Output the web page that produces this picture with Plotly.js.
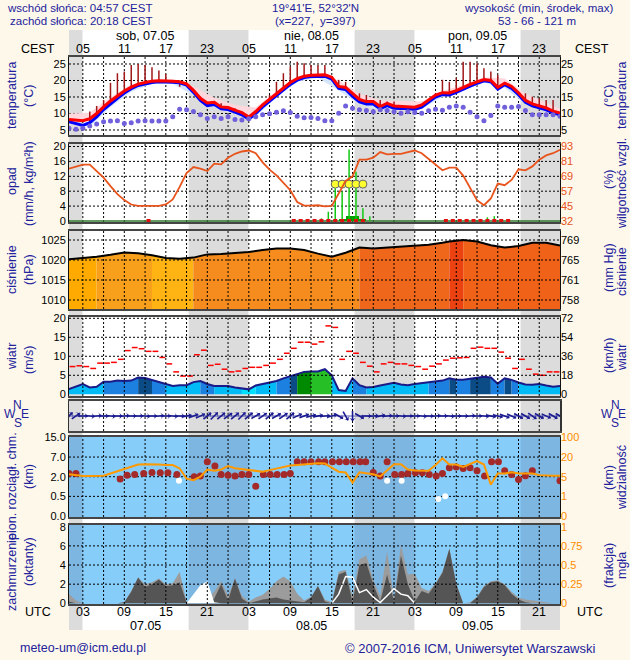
<!DOCTYPE html>
<html>
<head>
<meta charset="utf-8">
<script src="https://cdn.plot.ly/plotly-3.0.1.min.js"></script>
<style>html,body{margin:0;padding:0;background:#fdf8ea;}#chart{width:630px;height:660px;}</style>
</head>
<body>
<div id="chart"></div>
<script>
// ---------------- DATA (hours since 07.05 03:00 CEST = 01:00 UTC) ----------------
const hours = [0,1,2,3,4,5,6,7,8,9,10,11,12,13,14,15,16,17,18,19,20,21,22,23,24,25,26,27,28,29,30,31,32,33,34,35,36,37,38,39,40,41,42,43,44,45,46,47,48,49,50,51,52,53,54,55,56,57,58,59,60,61,62,63,64,65,66,67,68,69,70,71];

// temperature (°C)
const tempRed = [8.2,8.0,7.8,8.4,10.0,12.0,13.8,15.3,16.8,18.0, 18.9,19.4,19.8,19.9,19.9,19.8,19.6,19.0,17.0,14.6, 13.2,13.4,12.0,11.8,11.0,10.3,8.9,10.6,12.6,14.3, 16.1,17.6,19.4,20.6,21.3,21.6,21.6,21.7,21.0,18.2, 17.9,16.0,14.3,13.6,13.6,12.1,13.1,12.3,12.2,12.2, 11.9,12.6,14.1,15.6,16.3,16.2,16.9,17.9,18.8,19.6, 20.3,20.0,17.9,19.2,18.2,16.3,14.0,12.9,12.4,11.7, 10.7,10.1];
const tempBlue = [7.5,6.9,6.4,7.2,9.0,11.2,13.0,14.6,16.2,17.5, 18.5,19.0,19.4,19.6,19.6,19.5,19.3,18.6,16.4,14.0, 12.4,12.7,11.4,11.2,10.4,9.6,8.3,10.0,12.0,13.7, 15.5,17.0,18.8,20.1,20.9,21.2,21.2,21.3,20.4,17.6, 17.3,15.2,13.5,12.9,12.9,11.4,12.4,11.6,11.5,11.5, 11.2,11.9,13.5,15.0,15.7,15.6,16.4,17.4,18.3,19.1, 19.9,19.6,17.4,18.7,17.6,15.7,13.4,12.3,11.8,11.1, 10.2,9.6];
const dewPoint = [5.5,5.2,5.5,6.2,6.8,7.5,7.7,7.8,7.0,7.2, 7.7,7.8,7.7,7.7,7.7,9.0,11.3,11.1,10.6,9.6, 8.5,9.0,8.5,9.0,8.2,8.0,8.4,9.0,9.6,9.9, 10.4,10.8,10.3,9.2,8.7,8.8,8.5,7.8,7.8,10.1, 12.3,11.6,11.1,10.9,10.5,11.1,10.9,10.5,10.1,10.5, 10.3,10.1,10.8,11.3,11.0,11.9,12.3,11.9,10.4,9.0, 7.8,9.4,12.3,11.9,11.9,12.1,10.9,9.6,9.6,9.6, 9.6,9.2];
const bandH  = [0,3,6,9,12,15,18,21,24,27,30,33,36,39,42,45,48,51,54,57,60,63,66,69,71];
const tempHi = [10.0,10.2,15.0,18.8,20.3,20.3,18.2,14.8,12.6,11.8,16.8,21.2,22.0,20.0,16.0,14.0,13.8,13.6,16.8,18.6,21.0,20.6,16.0,13.2,11.4];
const tempLo = [7.0,6.0,12.0,16.6,19.0,19.0,15.5,11.8,9.8,9.0,15.0,19.6,20.8,17.0,12.8,11.0,11.2,11.4,15.0,17.0,19.3,17.8,12.8,10.6,9.0];
const tBarH   = [3,4,5,6,7,8,9,10,11,12,13,14,15,16, 19,21,22,23,24,25, 29,30,31,32,33,34,35,36,37, 39,40,42,43,45,46,47, 53,54,55,56,57,58,59,60,61,62,63,64, 66,67,68,69,70];
const tBarTop = [10.6,12.3,14.1,19.3,22.2,22.7,24.7,25.0,24.7,24.0,23.0,22.0,19.6,18.1, 15.1,13.6,13.1,12.3,11.6,10.6, 15.6,19.6,22.2,24.2,25.7,25.2,24.7,24.7,24.7, 20.2,19.6,16.1,15.6,14.1,13.6,13.6, 16.1,20.2,19.6,20.7,25.7,25.7,25.2,23.7,22.7,21.7,19.2,18.1, 16.1,15.1,14.6,14.1,14.1];

// precipitation (mm/h) and relative humidity (%)
const humidity = [74.9,76.5,78.1,78.1,72.7,67.5,60.5,54.0,49.1,45.5, 44.4,44.6,44.8,44.4,45.6,49.6,59.9,71.3,76.2,74.9, 72.9,78.9,78.4,83.8,87.0,88.9,89.7,87.5,80.0,74.0, 69.4,63.0,57.2,47.5,44.6,44.6,44.9,43.9,44.4,54.5, 64.8,68.6,82.2,82.2,83.8,88.4,86.5,87.0,87.0,88.4, 89.7,87.5,83.0,78.4,73.5,75.7,75.7,69.2,58.6,49.1, 44.9,50.4,62.6,61.3,65.6,74.3,73.5,76.7,82.2,85.7, 87.5,90.3];
const precipSpikeH = [36.5,37.5,38.5,39.5,40.5,41.5,42.5,43.5,60.5,61.5,62.5];
const precipSpikeV = [0.7,2.5,8.8,7.9,19.2,13.2,3.4,1.3,1.0,1.3,0.4];
const precipMeanH = [39.5,40.5,41.5,42.5];
const precipMeanV = [0.45,1.3,1.3,0.45];
const precipFlagH = [11.5,32.5,33.5,34.5,35.5,36.5,37.5,38.5,39.5,40.5,41.5,42.5,54.5,55.5,56.5,57.5,58.5,59.5,60.5,61.5,62.5,63.5];
const stormH = [38.5,39.5,40.5,41.5,42.5];

// pressure (hPa)
const pressH = [0,2,4,6,8,10,12,14,16,18,20,22,24,26,28,30,32,34,36,38,40,42,44,46,48,50,52,54,55,57,59,61,63,65,67,69,71];
const pressV = [1020.2,1020.5,1020.8,1021.3,1021.9,1021.7,1021.2,1020.5,1020.3,1020.6,1021.4,1021.5,1021.7,1022.0,1022.5,1022.9,1022.9,1022.5,1021.6,1020.8,1021.8,1023.1,1022.9,1023.1,1023.4,1023.6,1023.8,1024.3,1024.6,1025.0,1024.6,1023.7,1023.1,1023.5,1024.3,1024.3,1023.6];
const pressBandEdges = [0,4,12,18,42,55,57,71];
const pressBandColors = ['#ffaa00','#f8a01c','#ffb414','#f68c1e','#ef671b','#ec4212','#f06218'];

// wind (m/s)
const windSpeed = [1.4,2.0,2.7,1.8,2.0,3.3,3.3,3.6,3.5,3.6, 4.4,4.3,3.8,3.1,2.6,2.2,2.4,2.4,3.2,3.5, 2.7,2.2,2.2,2.2,1.8,1.5,1.3,2.3,2.7,3.1, 3.5,4.2,4.8,5.4,5.9,6.0,6.0,6.6,5.0,1.1, 0.9,4.2,2.4,1.8,1.9,2.3,2.7,3.0,2.6,2.4, 2.7,2.9,3.2,3.4,3.6,4.2,3.8,3.8,4.1,4.4, 4.6,4.4,2.8,4.2,3.8,3.1,2.6,2.5,2.7,2.3, 2.0,2.2];
const windGust = [7.3,7.5,7.3,6.8,8.2,8.2,8.4,9.2,11.5,12.3, 12.0,11.3,11.3,9.7,8.0,5.9,4.8,4.8,10.4,11.6, 7.6,7.9,6.6,5.9,6.1,6.8,7.1,7.1,7.6,8.2, 9.2,10.8,12.1,13.7,13.7,13.2,13.8,18.0,17.6,9.2, 11.3,10.8,8.4,7.4,5.9,8.0,8.4,8.0,8.0,7.6, 7.3,6.6,7.4,8.0,9.0,9.5,9.6,9.7,12.1,12.4, 12.1,12.1,11.1,9.5,6.8,9.2,6.6,5.3,5.0,5.9, 5.9];
const windBandEdges = [0,5,10,12,14,19,21,25,27,30,32,33,35,38,41,43,52,55,56,58,61,63,64,65,71];
const windBandColors = ['#00bbf5','#1c80e0','#0b4c86','#1c80e0','#00bbf5','#1c80e0','#00bbf5','#00e0ff','#00bbf5','#1c80e0','#0b4c86','#008a00','#26c026','#00bbf5','#1c80e0','#00bbf5','#1c80e0','#0b4c86','#1c80e0','#0b4c86','#1c80e0','#0b4c86','#1c80e0','#00bbf5'];
const windDir = [225,235, 270,275,265,270,275,270,265,270,270,275,270,265,270,275,270, 260,250,245, 230,225,230,235,230,225,230, 240,235,230,240,235,230,245,250,255, 260,265,255, 300,330,0,300, 270,265,260,265,270,275,270,270,275,270,265,270,275,270,270,265,270,275, 280,285,290,295,300,300,305,300,295,300,300];

// visibility (km, right axis) and vertical cloud extent (km, left axis)
const visKm = [6.8,6.0,5.5,5.5,5.5,5.8,7.5,9.2,11.0,12.5, 14.3,14.6,14.6,14.3,14.0,13.9,11.3,4.6,4.3,5.0, 10.5,9.5,10.5,13.1,11.5,10.8,10.0,9.2,8.8,10.0, 11.3,12.5,13.5,13.9,14.5,15.1,15.3,15.0,12.0,8.8, 8.3,3.8,8.3,7.5,6.8,5.2,10.0,14.6,14.6,10.5, 9.8,9.5,9.5,13.9,19.0,14.3,14.3,12.5,15.0,16.9, 14.3,3.4,7.5,7.5,8.3,7.5,7.5,7.5,6.2,5.7, 5.7,5.7];
const cloudExtH  = [0,1,7.4,8.4,9.5,10.8,12.0,13.2,14.3,15.6,18.1,19.0,20.0,21.1,22.0,23.0,24.0,25.0,26.0,27.0,28.1,29.1,30.1,31.1,32.0,33.0,34.0,35.0,36.1,37.0,38.1,39.1,40.1,41.1,42.1,42.9,44.0,45.0,46.0,47.1,48.1,49.0,50.1,51.1,52.1,53.1,54.0,55.0,56.0,57.0,58.0,59.0,60.1,61.1,62.1,63.0,64.0,65.0,66.0,67.0,71.0];
const cloudExtKm = [2.84,2.84,1.82,2.4,2.59,2.84,3.1,3.0,3.0,2.59,1.99,2.15,5.8,4.7,2.59,2.4,2.15,2.59,2.59,1.28,2.59,2.59,2.59,2.59,2.84,5.8,5.8,5.8,5.8,5.8,5.8,5.8,5.8,5.8,5.8,5.8,3.1,2.15,5.8,2.59,2.59,2.84,3.0,3.0,2.59,2.15,2.84,4.26,4.5,4.1,4.26,3.5,2.15,5.8,5.8,3.5,2.59,1.79,2.25,3.5,1.69];
const whiteDotH  = [15.9,46.0,48.1,53.4,54.4];
const whiteDotKm = [1.69,1.69,1.69,0.43,0.5];
const visLeftTicks  = [0,0.5,2,7,15];
const visRightTicks = [0,1,5,20,100];

// cloud cover (oktas) and fog (fraction)
const cloudHigh = [1.0,0.3,0,0,0,0,0,0,0.1,1.3, 2.7,2.0,2.2,2.6,2.0,2.1,3.3,0.2,0.2,0.3, 0.5,1.2,2.3,0.8,2.6,0.8,0.2,0.6,0.9,1.5, 2.3,2.8,2.3,1.0,0.3,0.7,1.8,0.4,0.1,3.3, 3.5,0.8,4.6,5.0,2.4,0.8,5.4,0.5,6.1,3.0, 3.1,1.6,1.3,2.1,3.3,5.7,2.1,0,0.1,0.7, 1.8,2.3,2.4,2.0,1.2,0.6,0.4,0.3,0.2,0.1, 0,0];
const cloudLow = [0.2,0,0,0,0,0,0,0,0.1,1.2, 2.7,1.7,2.0,2.5,1.8,1.9,2.2,0.1,0.1,0.2, 0.1,0.5,2.0,0.3,2.6,0.5,0,0.2,0.4,0.5, 0.6,0.4,0.3,0.2,0.1,0.6,1.8,0.2,0,3.0, 3.3,0.1,4.0,4.2,2.0,0.2,3.0,0.2,5.0,2.0, 0.2,1.3,1.0,2.0,3.2,5.7,2.0,0,0,0.6, 1.7,2.2,2.3,1.9,1.0,0.4,0.1,0,0,0, 0,0];
const fogAreaH = [17,18,19,20,21,22];
const fogAreaV = [0,0.9,1.9,2.3,0.1,0];
const fogLineH = [38,39,40,41,42,43,44,45,46,47,48,49,50];
const fogLineV = [0,0.12,0.35,0.34,0.14,0.18,0.08,0.01,0.1,0.19,0.12,0.1,0];

// time axis labels
const tickH = [2,8,14,20,26,32,38,44,50,56,62,68];
const cestLabels = ['05','11','17','23','05','11','17','23','05','11','17','23'];
const utcLabels  = ['03','09','15','21','03','09','15','21','03','09','15','21'];
const dayH = [11,35,59];
const dayTop = ['sob, 07.05','nie, 08.05','pon, 09.05'];
const dayBottom = ['07.05','08.05','09.05'];
const nightStart = [0,17.3,41.3,65.3];
const nightEnd   = [1.95,25.95,49.95,71];

// ---------------- GEOMETRY / STYLE ----------------
const FONT = 'Liberation Sans, Arial, sans-serif';
const NAVY = '#22229c';
const L = 69, R = 560, TOP = 57, BOT = 604, PH = BOT - TOP;
const px2y = p => (BOT - p) / PH;
const px2x = p => (p - L) / (R - L);
const dom = (t, b) => [px2y(b), px2y(t)];
const XMAX = 71;

function pw(v, t) {
  for (let i = 0; i < t.length - 1; i++) if (v <= t[i + 1]) return i + (v - t[i]) / (t[i + 1] - t[i]);
  return t.length - 1;
}

const traces = [];
const S = o => Object.assign({type: 'scatter', hoverinfo: 'skip', showlegend: false}, o);

// Temperature panel
traces.push(S({x: hours, y: tempRed, yaxis: 'y', mode: 'lines', line: {width: 0}}));
traces.push(S({x: bandH, y: tempHi, yaxis: 'y', mode: 'lines', line: {width: 0}, fill: 'tonexty', fillcolor: '#ffd8de'}));
traces.push(S({x: bandH, y: tempLo, yaxis: 'y', mode: 'lines', line: {width: 0}}));
traces.push(S({x: hours, y: tempBlue, yaxis: 'y', mode: 'lines', line: {width: 0}, fill: 'tonexty', fillcolor: '#d3e4fb'}));
{
  const bx = [], by = [];
  tBarH.forEach((h, i) => { bx.push(h, h, null); by.push(tempBlue[hours.indexOf(h)], tBarTop[i], null); });
  traces.push(S({x: bx, y: by, yaxis: 'y', mode: 'lines', line: {color: '#a01818', width: 1.5}}));
}
traces.push(S({x: hours, y: tempBlue, yaxis: 'y', mode: 'lines', line: {color: '#0000ff', width: 3}}));
traces.push(S({x: hours, y: tempRed, yaxis: 'y', mode: 'lines', line: {color: '#ff0000', width: 3}}));
traces.push(S({x: hours, y: dewPoint, yaxis: 'y', mode: 'markers', marker: {color: '#7060dc', size: 5}}));
traces.push(S({x: [null], y: [null], yaxis: 'y2', mode: 'lines'}));

// Precipitation / humidity panel
traces.push({type: 'bar', x: precipMeanH, y: precipMeanV, yaxis: 'y3', width: 1, marker: {color: '#00a000', line: {width: 0}}, hoverinfo: 'skip', showlegend: false});
{
  const sx = [], sy = [];
  precipSpikeH.forEach((h, i) => { sx.push(h, h, null); sy.push(0, precipSpikeV[i], null); });
  traces.push(S({x: sx, y: sy, yaxis: 'y3', mode: 'lines', line: {color: '#10c810', width: 1.5}}));
}
traces.push(S({x: precipFlagH, y: precipFlagH.map(() => 0), yaxis: 'y3', mode: 'markers', cliponaxis: false, marker: {symbol: 'square', size: 4, color: '#e01010'}}));
traces.push(S({x: hours, y: humidity, yaxis: 'y4', mode: 'lines', line: {color: '#e8541c', width: 1.8}}));
traces.push(S({x: stormH, y: stormH.map(() => 9.9), yaxis: 'y3', mode: 'markers', marker: {size: 8, color: '#ffff30', line: {color: '#666', width: 1}}}));

// Pressure panel
for (let i = 0; i < pressBandEdges.length - 1; i++) {
  const a = pressBandEdges[i], b = pressBandEdges[i + 1], xs = [], ys = [];
  pressH.forEach((h, j) => { if (h >= a && h <= b) { xs.push(h); ys.push(pressV[j]); } });
  traces.push(S({x: xs, y: ys, yaxis: 'y5', mode: 'lines', line: {width: 0}, fill: 'tozeroy', fillcolor: pressBandColors[i]}));
}
traces.push(S({x: pressH, y: pressV, yaxis: 'y5', mode: 'lines', line: {color: '#000', width: 2}}));
traces.push(S({x: [null], y: [null], yaxis: 'y6', mode: 'lines'}));

// Wind panel
for (let i = 0; i < windBandEdges.length - 1; i++) {
  const a = windBandEdges[i], b = windBandEdges[i + 1], xs = [], ys = [];
  hours.forEach((h, j) => { if (h >= a && h <= b) { xs.push(h); ys.push(windSpeed[j]); } });
  traces.push(S({x: xs, y: ys, yaxis: 'y7', mode: 'lines', line: {width: 0}, fill: 'tozeroy', fillcolor: windBandColors[i]}));
}
traces.push(S({x: hours, y: windSpeed, yaxis: 'y7', mode: 'lines', line: {color: '#1a1a88', width: 2}}));
{
  const gx = [], gy = [];
  windGust.forEach((g, i) => { gx.push(hours[i] + 0.08, hours[i] + 0.92, null); gy.push(g, g, null); });
  traces.push(S({x: gx, y: gy, yaxis: 'y7', mode: 'lines', line: {color: '#ff0000', width: 1.5}}));
}
traces.push(S({x: [null], y: [null], yaxis: 'y8', mode: 'lines'}));

// Wind direction strip: short arrows oriented by direction
{
  const pxPerH = (R - L) / XMAX, pxPerU = (431 - 401) / 2;
  const sx = [], sy = [], hx = [], hy = [], ha = [];
  windDir.forEach((d, i) => {
    const to = (d + 180) % 360, a = to * Math.PI / 180;
    const ex = Math.sin(a) * 5 / pxPerH, ey = Math.cos(a) * 5 / pxPerU;
    sx.push(hours[i] - ex, hours[i] + ex, null); sy.push(-ey, ey, null);
    hx.push(hours[i] + ex); hy.push(ey); ha.push(to);
  });
  traces.push(S({x: hours, y: hours.map(() => 0), yaxis: 'y9', mode: 'lines', line: {color: '#3030a0', width: 0.8}}));
  traces.push(S({x: sx, y: sy, yaxis: 'y9', mode: 'lines', line: {color: '#1a1a90', width: 1.6}}));
  traces.push(S({x: hx, y: hy, yaxis: 'y9', mode: 'markers', marker: {symbol: 'arrow-wide', size: 5, angle: ha, color: '#1a1a90'}}));
}

// Visibility / cloud extent panel
traces.push(S({x: hours, y: visKm.map(v => pw(v, visRightTicks)), yaxis: 'y11', mode: 'lines', line: {color: '#ff9900', width: 2}}));
traces.push(S({x: cloudExtH, y: cloudExtKm.map(v => pw(v, visLeftTicks)), yaxis: 'y10', mode: 'markers', marker: {color: '#a42a2a', size: 7}}));
traces.push(S({x: whiteDotH, y: whiteDotKm.map(v => pw(v, visLeftTicks)), yaxis: 'y10', mode: 'markers', marker: {color: '#ffffff', size: 6}}));

// Cloud cover panel
traces.push(S({x: hours, y: cloudHigh, yaxis: 'y12', mode: 'lines', line: {width: 0}, fill: 'tozeroy', fillcolor: '#9c9c9c'}));
traces.push(S({x: hours, y: cloudLow, yaxis: 'y12', mode: 'lines', line: {width: 0}, fill: 'tozeroy', fillcolor: '#555555'}));
traces.push(S({x: fogAreaH, y: fogAreaV, yaxis: 'y12', mode: 'lines', line: {width: 0}, fill: 'tozeroy', fillcolor: '#ffffff'}));
traces.push(S({x: fogLineH, y: fogLineV, yaxis: 'y13', mode: 'lines', line: {color: '#ffffff', width: 1.5}}));

// ---------------- SHAPES ----------------
const shapes = [];
const colY0 = px2y(630), colY1 = px2y(30);
shapes.push({type: 'rect', xref: 'x', yref: 'paper', x0: 0, x1: XMAX, y0: colY0, y1: colY1, fillcolor: '#ffffff', line: {width: 0}, layer: 'below'});
nightStart.forEach((s, i) => shapes.push({type: 'rect', xref: 'x', yref: 'paper', x0: s, x1: nightEnd[i], y0: colY0, y1: colY1, fillcolor: '#dcdcdc', line: {width: 0}, layer: 'below'}));
['y10', 'y12'].forEach(ax => {
  shapes.push({type: 'rect', xref: 'x', yref: ax + ' domain', x0: 0, x1: XMAX, y0: 0, y1: 1, fillcolor: '#87cdfa', line: {width: 0}, layer: 'below'});
  nightStart.forEach((s, i) => shapes.push({type: 'rect', xref: 'x', yref: ax + ' domain', x0: s, x1: nightEnd[i], y0: 0, y1: 1, fillcolor: '#7eb6e2', line: {width: 0}, layer: 'below'}));
});
const GL = {color: '#000', width: 1, dash: '2px,2px'};
function grid(ax, yvals, layer) {
  for (let h = 2; h < XMAX; h += 3) shapes.push({type: 'line', xref: 'x', yref: ax + ' domain', x0: h, x1: h, y0: 0, y1: 1, line: GL, layer});
  yvals.forEach(v => shapes.push({type: 'line', xref: 'x', yref: ax, x0: 0, x1: XMAX, y0: v, y1: v, line: GL, layer}));
}
grid('y', [5, 10, 15, 20, 25], 'below');
grid('y3', [4, 8, 12, 16, 20], 'below');
grid('y5', [1010, 1015, 1020, 1025], 'above');
grid('y7', [5, 10, 15, 20], 'above');
grid('y9', [], 'below');
grid('y10', [1, 2, 3], 'below');
grid('y12', [2, 4, 6], 'above');
shapes.push({type: 'line', xref: 'x', yref: 'y3', x0: 0, x1: XMAX, y0: 0, y1: 0, line: {color: '#2f7a2f', width: 1.5}, layer: 'below'});

// ---------------- ANNOTATIONS ----------------
const ann = [];
function txt(text, x, y, o) {
  ann.push(Object.assign({text, x, y, xref: 'paper', yref: 'paper', showarrow: false, xanchor: 'center', yanchor: 'middle',
    font: {family: FONT, size: 11.5, color: NAVY}}, o || {}));
}
txt('wschód słońca: 04:57 CEST', px2x(5), px2y(8), {xanchor: 'left'});
txt('zachód słońca: 20:18 CEST', px2x(8), px2y(21), {xanchor: 'left'});
txt("19°41'E, 52°32'N", px2x(315), px2y(8));
txt('(x=227,\u00a0 y=397)', px2x(315), px2y(21));
txt('wysokość (min, środek, max)', px2x(538), px2y(8));
txt('53 - 66 - 121 m', px2x(537), px2y(21));

const AXF = {family: FONT, size: 12.5, color: '#000'};
tickH.forEach((h, i) => {
  txt(cestLabels[i], h, px2y(49), {xref: 'x', font: AXF});
  txt(utcLabels[i], h, px2y(612), {xref: 'x', font: AXF});
});
dayH.forEach((h, i) => {
  txt(dayTop[i], h, px2y(36), {xref: 'x', font: AXF});
  txt(dayBottom[i], h, px2y(625.5), {xref: 'x', font: AXF});
});
txt('CEST', px2x(38), px2y(49), {font: AXF});
txt('CEST', px2x(592), px2y(49), {font: AXF});
txt('UTC', px2x(38), px2y(612), {font: AXF});
txt('UTC', px2x(590), px2y(612), {font: AXF});

// axis titles: [left line1, y1, left line2, y2, right line1, y3, right line2, y4]
const TF = {family: FONT, size: 12.5, color: NAVY};
const titles = [
  ['temperatura', 96, '(°C)', 96, '(°C)', 96, 'temperatura', 96],
  ['opad', 181, '(mm/h, kg/m²h)', 184, '(%)', 180, 'wilgotność wzgl.', 184],
  ['ciśnienie', 270, '(hPa)', 270, '(mm Hg)', 268, 'ciśnienie', 272],
  ['wiatr', 357, '(m/s)', 360, '(km/h)', 356, 'wiatr', 358],
  ['pion. rozciągł. chm.', 486, '(km)', 477, '(km)', 478, 'widzialność', 478],
  ['zachmurzenie', 572, '(oktanty)', 562, '(frakcja)', 566, 'mgła', 566]
];
titles.forEach(t => {
  txt(t[0], px2x(12), px2y(t[1]), {textangle: -90, font: TF});
  txt(t[2], px2x(29), px2y(t[3]), {textangle: -90, font: TF});
  txt(t[4], px2x(609), px2y(t[5]), {textangle: -90, font: TF});
  txt(t[6], px2x(622), px2y(t[7]), {textangle: -90, font: TF});
});
const CF = {family: FONT, size: 12, color: NAVY};
[[17, 9.5, 25, 18], [615, 607, 622, 615]].forEach(c => {
  txt('N', px2x(c[0]), px2y(405), {font: CF});
  txt('W', px2x(c[1]), px2y(414), {font: CF});
  txt('E', px2x(c[2]), px2y(414), {font: CF});
  txt('S', px2x(c[3]), px2y(423), {font: CF});
});
txt('meteo-um@icm.edu.pl', px2x(18), px2y(648), {xanchor: 'left', font: {family: FONT, size: 12.5, color: NAVY}});
txt('© 2007-2016 ICM, Uniwersytet Warszawski', px2x(343), px2y(648), {xanchor: 'left', font: {family: FONT, size: 13, color: NAVY}});

// ---------------- LAYOUT ----------------
const TK = {family: FONT, size: 11, color: '#000'};
const ax = o => Object.assign({showgrid: false, zeroline: false, ticks: '', tickfont: TK, fixedrange: true, showline: true, mirror: true, linecolor: '#111', linewidth: 1, anchor: 'x'}, o);
const ov = o => Object.assign({showgrid: false, zeroline: false, ticks: '', tickfont: TK, fixedrange: true, showline: false, side: 'right', anchor: 'x'}, o);
const tR = [3.48, 27.12], pR = [-0.27, 20.67], prR = [1007.75, 1027.25], wR = [-0.45, 20.34], vR = [-0.05, 4.02], cR = [-0.07, 8.18];
const layout = {
  width: 630, height: 660, margin: {l: L, r: 630 - R, t: TOP, b: 660 - BOT, pad: 0},
  paper_bgcolor: '#fdf8ea', plot_bgcolor: 'rgba(0,0,0,0)', showlegend: false, font: {family: FONT},
  bargap: 0,
  xaxis: {range: [0, XMAX], domain: [0, 1], anchor: 'y12', showgrid: false, zeroline: false, showticklabels: false, ticks: '',
    showline: true, mirror: 'all', linecolor: '#454545', linewidth: 2, fixedrange: true},
  yaxis:  ax({domain: dom(57, 135), range: tR, tickvals: [5, 10, 15, 20, 25]}),
  yaxis2: ov({overlaying: 'y', range: tR, tickvals: [5, 10, 15, 20, 25]}),
  yaxis3: ax({domain: dom(144, 222), range: pR, tickvals: [0, 4, 8, 12, 16, 20]}),
  yaxis4: ov({overlaying: 'y3', range: [32 + pR[0] * 3.05, 32 + pR[1] * 3.05], tickvals: [32, 44.2, 56.4, 68.6, 80.8, 93],
    ticktext: ['32', '45', '57', '69', '81', '93'], tickfont: {family: FONT, size: 11, color: '#e8541c'}}),
  yaxis5: ax({domain: dom(231, 309), range: prR, tickvals: [1010, 1015, 1020, 1025]}),
  yaxis6: ov({overlaying: 'y5', range: prR, tickvals: [1010, 1015, 1020, 1025], ticktext: ['758', '761', '765', '769']}),
  yaxis7: ax({domain: dom(317, 396), range: wR, tickvals: [0, 5, 10, 15, 20]}),
  yaxis8: ov({overlaying: 'y7', range: [wR[0] * 3.6, wR[1] * 3.6], tickvals: [0, 18, 36, 54, 72]}),
  yaxis9: ax({domain: dom(401, 431), range: [-1, 1], showticklabels: false, linewidth: 1.5, linecolor: '#333'}),
  yaxis10: ax({domain: dom(437, 517), range: vR, tickvals: [0, 1, 2, 3, 4], ticktext: ['0.0', '0.5', '2.0', '7.0', '15.0']}),
  yaxis11: ov({overlaying: 'y10', range: vR, tickvals: [0, 1, 2, 3, 4], ticktext: ['0', '1', '5', '20', '100'], tickfont: {family: FONT, size: 11, color: '#ff8c00'}}),
  yaxis12: ax({domain: dom(525, 604), range: cR, tickvals: [0, 2, 4, 6, 8]}),
  yaxis13: ov({overlaying: 'y12', range: [cR[0] / 8, cR[1] / 8], tickvals: [0, 0.25, 0.5, 0.75, 1], ticktext: ['0', '0.25', '0.5', '0.75', '1'], tickfont: {family: FONT, size: 11, color: '#ff8c00'}}),
  shapes, annotations: ann
};

Plotly.newPlot('chart', traces, layout, {staticPlot: true, displayModeBar: false});
</script>
</body>
</html>
